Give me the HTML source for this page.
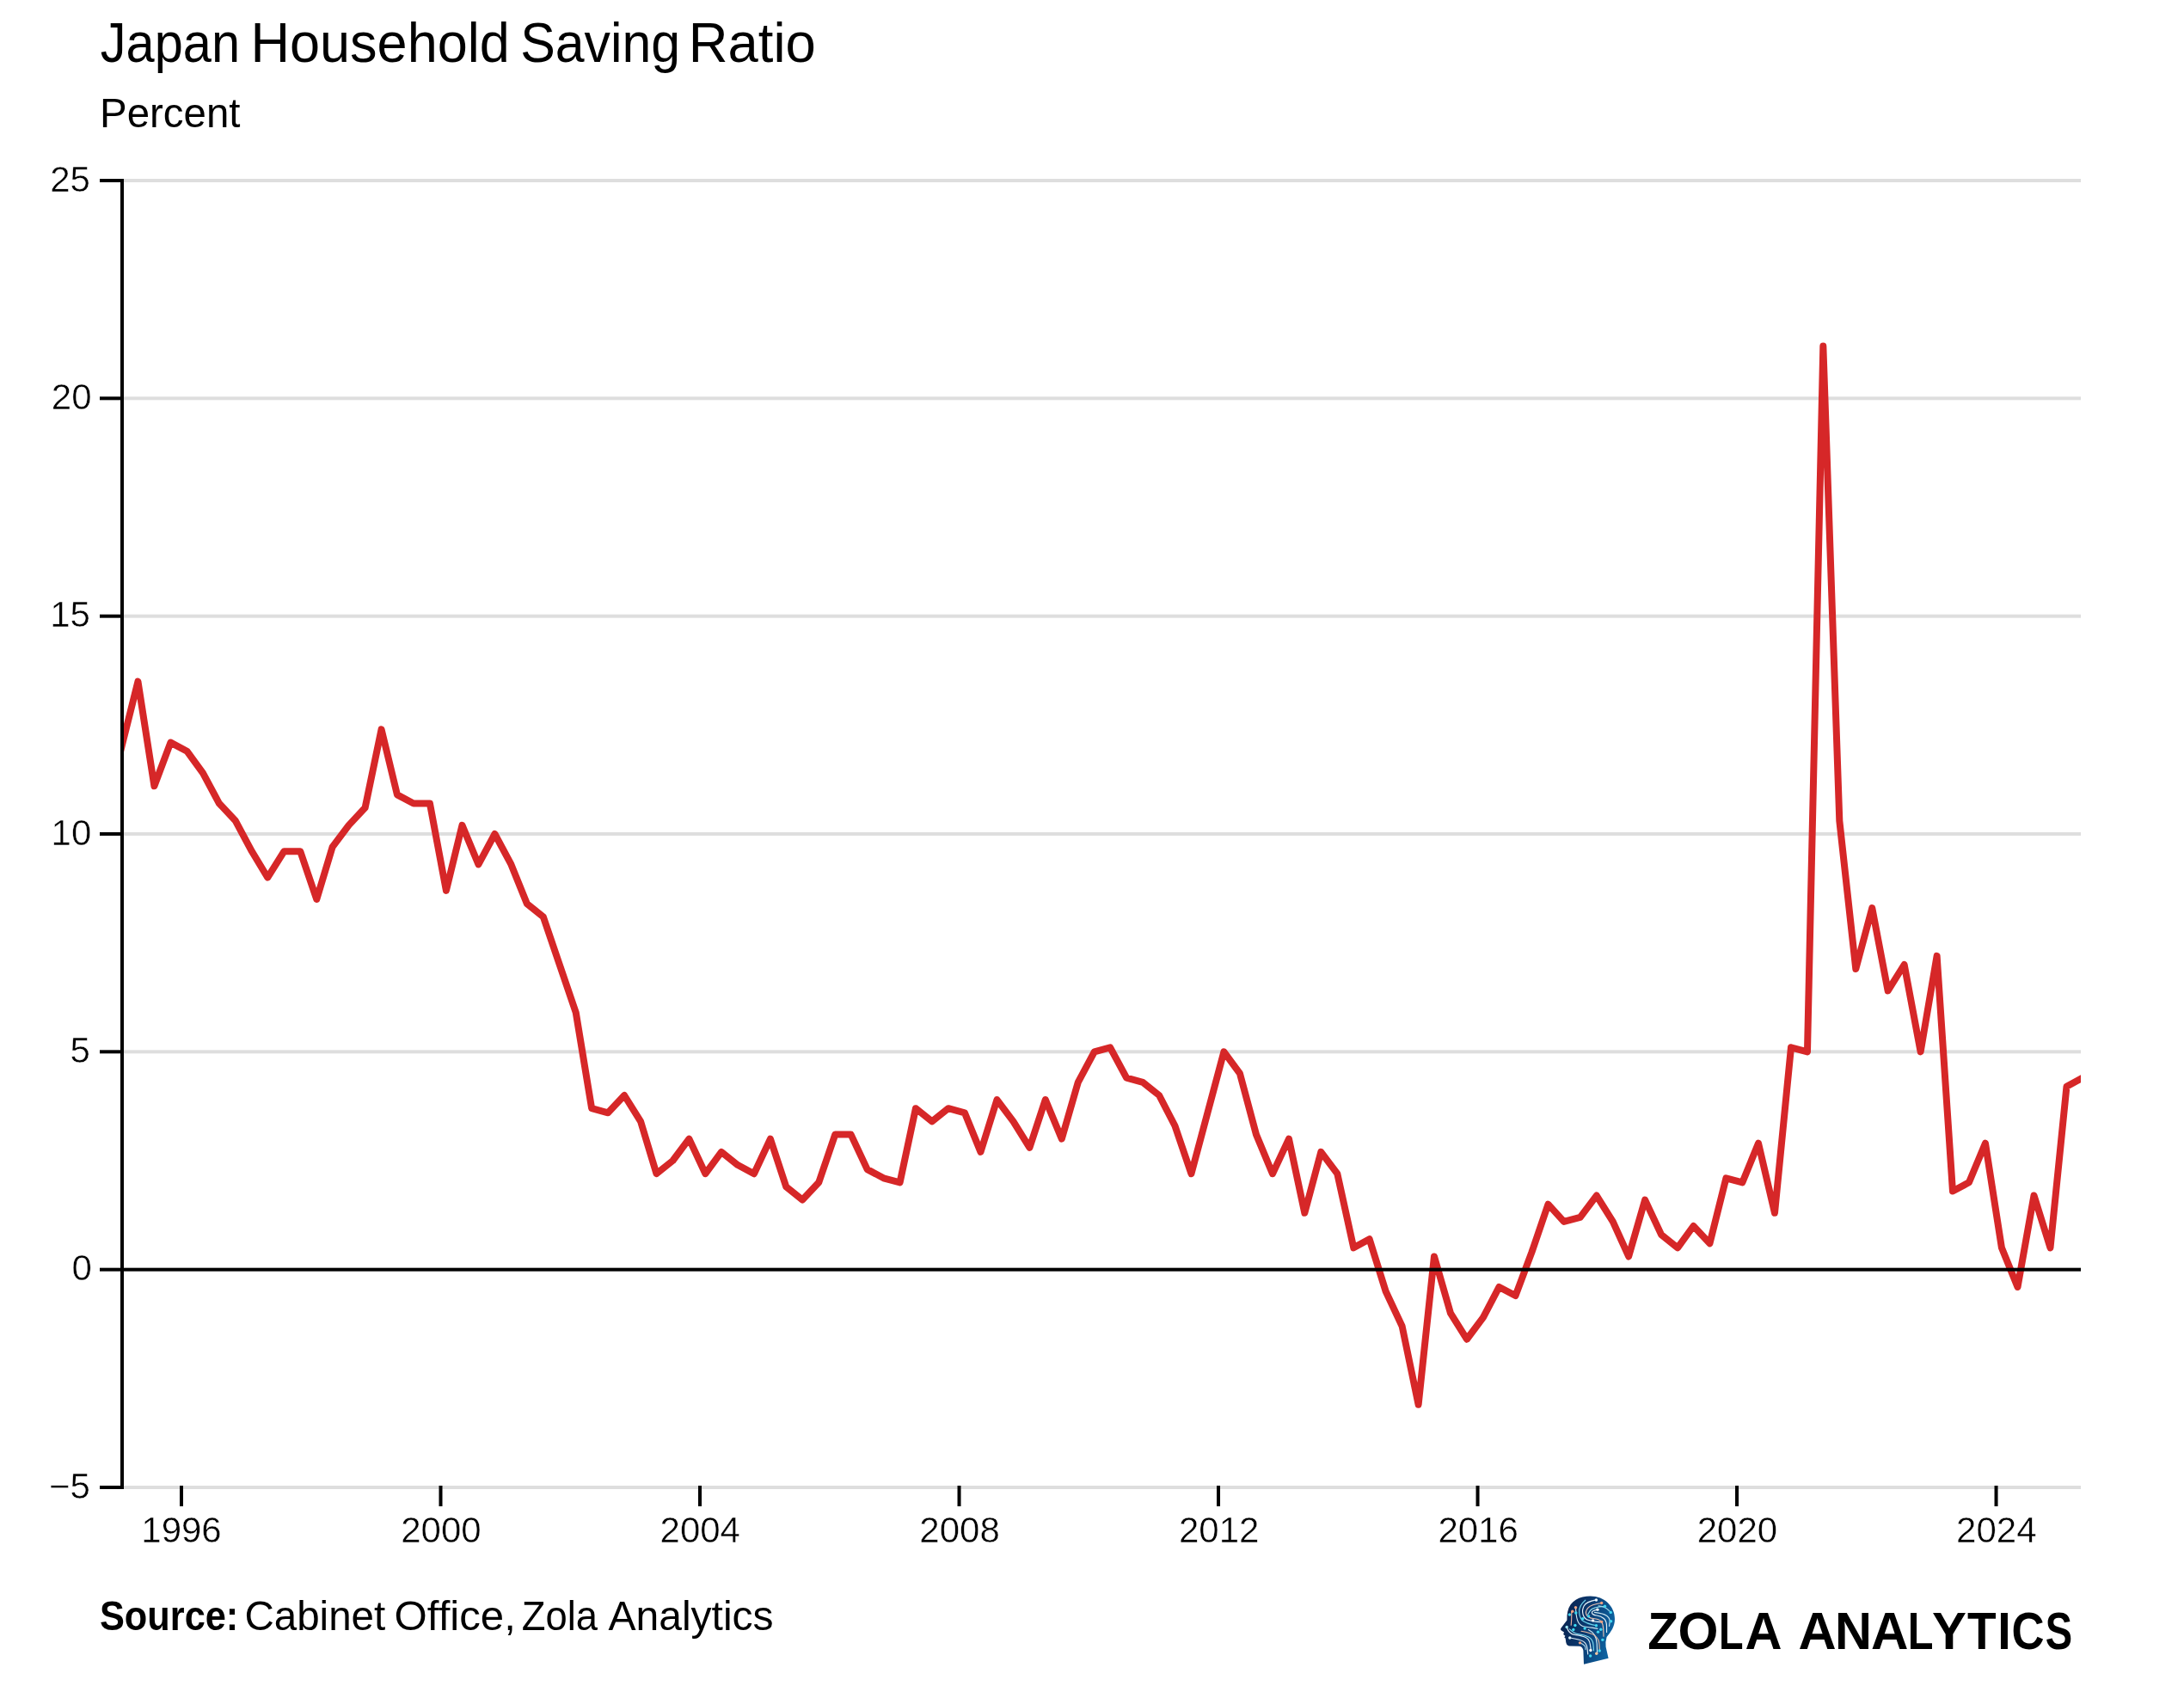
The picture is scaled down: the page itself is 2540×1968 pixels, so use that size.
<!DOCTYPE html><html><head><meta charset="utf-8"><style>html,body{margin:0;padding:0;background:#fff;}svg{display:block;will-change:transform;}text{font-family:"Liberation Sans",sans-serif;}.th{stroke:#fff;stroke-width:0.45px;}</style></head><body>
<svg width="2540" height="1968" viewBox="0 0 2540 1968">
<rect x="0" y="0" width="2540" height="1968" fill="#fff"/>
<defs><clipPath id="plot"><rect x="142" y="0" width="2278" height="1968"/></clipPath><linearGradient id="hg" x1="0" y1="0" x2="1" y2="0.3"><stop offset="0" stop-color="#091c46"/><stop offset="0.55" stop-color="#0b3a70"/><stop offset="1" stop-color="#0d62a0"/></linearGradient></defs>
<rect x="144" y="208.00" width="2276" height="4" fill="#dedede"/>
<rect x="144" y="461.33" width="2276" height="4" fill="#dedede"/>
<rect x="144" y="714.67" width="2276" height="4" fill="#dedede"/>
<rect x="144" y="968.00" width="2276" height="4" fill="#dedede"/>
<rect x="144" y="1221.33" width="2276" height="4" fill="#dedede"/>
<rect x="144" y="1728.00" width="2276" height="4" fill="#dedede"/>
<path d="M123.70,939.60 L142.07,866.13 L160.44,792.67 L179.42,914.27 L198.41,863.60 L217.40,873.73 L235.97,899.07 L254.95,934.53 L273.94,954.80 L292.93,990.27 L311.29,1020.67 L330.28,990.27 L349.27,990.27 L368.25,1046.00 L386.62,985.20 L405.60,959.87 L424.59,939.60 L443.58,848.40 L461.94,924.40 L480.93,934.53 L499.92,934.53 L518.90,1035.87 L537.47,959.87 L556.46,1005.47 L575.45,970.00 L594.43,1005.47 L612.80,1051.07 L631.79,1066.27 L650.77,1122.00 L669.76,1177.73 L688.13,1289.20 L707.11,1294.27 L726.10,1274.00 L745.08,1304.40 L763.45,1365.20 L782.44,1350.00 L801.42,1324.67 L820.41,1365.20 L838.98,1339.87 L857.97,1355.07 L876.95,1365.20 L895.94,1324.67 L914.31,1380.40 L933.29,1395.60 L952.28,1375.33 L971.26,1319.60 L989.63,1319.60 L1008.62,1360.13 L1027.60,1370.27 L1046.59,1375.33 L1064.96,1289.20 L1083.94,1304.40 L1102.93,1289.20 L1121.91,1294.27 L1140.49,1339.87 L1159.47,1279.07 L1178.46,1304.40 L1197.45,1334.80 L1215.81,1279.07 L1234.80,1324.67 L1253.79,1258.80 L1272.77,1223.33 L1291.14,1218.27 L1310.12,1253.73 L1329.11,1258.80 L1348.10,1274.00 L1366.46,1309.47 L1385.45,1365.20 L1404.44,1294.27 L1423.42,1223.33 L1441.99,1248.67 L1460.98,1319.60 L1479.97,1365.20 L1498.95,1324.67 L1517.32,1410.80 L1536.31,1339.87 L1555.29,1365.20 L1574.28,1451.33 L1592.64,1441.20 L1611.63,1502.00 L1630.62,1542.53 L1649.60,1633.73 L1667.97,1461.47 L1686.96,1527.33 L1705.94,1557.73 L1724.93,1532.40 L1743.50,1496.93 L1762.49,1507.07 L1781.47,1456.40 L1800.46,1400.67 L1818.83,1420.93 L1837.81,1415.87 L1856.80,1390.53 L1875.78,1420.93 L1894.15,1461.47 L1913.14,1395.60 L1932.12,1436.13 L1951.11,1451.33 L1969.48,1426.00 L1988.46,1446.27 L2007.45,1370.27 L2026.43,1375.33 L2045.01,1329.73 L2063.99,1410.80 L2082.98,1218.27 L2101.97,1223.33 L2120.33,402.53 L2139.32,954.80 L2158.30,1127.07 L2177.29,1056.13 L2195.66,1152.40 L2214.64,1122.00 L2233.63,1223.33 L2252.62,1111.87 L2270.98,1385.47 L2289.97,1375.33 L2308.95,1329.73 L2327.94,1451.33 L2346.51,1496.93 L2365.50,1390.53 L2384.49,1451.33 L2403.47,1263.87 L2421.84,1253.73" fill="none" stroke="#d62728" stroke-width="8" stroke-linejoin="round" stroke-linecap="butt" clip-path="url(#plot)"/>
<rect x="144" y="1474.67" width="2276" height="4" fill="#000"/>
<rect x="140" y="208" width="4" height="1524" fill="#000"/>
<rect x="116" y="208.00" width="28" height="4" fill="#000"/>
<rect x="116" y="461.33" width="28" height="4" fill="#000"/>
<rect x="116" y="714.67" width="28" height="4" fill="#000"/>
<rect x="116" y="968.00" width="28" height="4" fill="#000"/>
<rect x="116" y="1221.33" width="28" height="4" fill="#000"/>
<rect x="116" y="1474.67" width="28" height="4" fill="#000"/>
<rect x="116" y="1728.00" width="28" height="4" fill="#000"/>
<text class="th" x="58.25" y="222.60" font-size="42.0" fill="#000">25</text>
<text class="th" x="59.82" y="475.93" font-size="42.0" fill="#000">20</text>
<text class="th" x="58.15" y="729.27" font-size="42.0" fill="#000">15</text>
<text class="th" x="59.62" y="982.60" font-size="42.0" fill="#000">10</text>
<text class="th" x="81.51" y="1235.93" font-size="42.0" fill="#000">5</text>
<text class="th" x="83.58" y="1489.27" font-size="42.0" fill="#000">0</text>
<text class="th" x="57.08" y="1742.60" font-size="42.0" fill="#000">−5</text>
<rect x="209.00" y="1728" width="4" height="24" fill="#000"/>
<text class="th" x="164.30" y="1793.6" font-size="42.0" fill="#000">1996</text>
<rect x="510.50" y="1728" width="4" height="24" fill="#000"/>
<text class="th" x="466.25" y="1793.6" font-size="42.0" fill="#000">2000</text>
<rect x="812.01" y="1728" width="4" height="24" fill="#000"/>
<text class="th" x="767.55" y="1793.6" font-size="42.0" fill="#000">2004</text>
<rect x="1113.52" y="1728" width="4" height="24" fill="#000"/>
<text class="th" x="1069.36" y="1793.6" font-size="42.0" fill="#000">2008</text>
<rect x="1415.02" y="1728" width="4" height="24" fill="#000"/>
<text class="th" x="1371.01" y="1793.6" font-size="42.0" fill="#000">2012</text>
<rect x="1716.53" y="1728" width="4" height="24" fill="#000"/>
<text class="th" x="1672.38" y="1793.6" font-size="42.0" fill="#000">2016</text>
<rect x="2018.04" y="1728" width="4" height="24" fill="#000"/>
<text class="th" x="1973.78" y="1793.6" font-size="42.0" fill="#000">2020</text>
<rect x="2319.54" y="1728" width="4" height="24" fill="#000"/>
<text class="th" x="2275.09" y="1793.6" font-size="42.0" fill="#000">2024</text>
<text x="116.77" y="71.90" font-size="64.80" font-weight="normal" textLength="162.30" lengthAdjust="spacingAndGlyphs" fill="#000">Japan</text>
<text x="291.43" y="71.90" font-size="64.80" font-weight="normal" textLength="301.44" lengthAdjust="spacingAndGlyphs" fill="#000">Household</text>
<text x="605.14" y="71.90" font-size="64.80" font-weight="normal" textLength="185.88" lengthAdjust="spacingAndGlyphs" fill="#000">Saving</text>
<text x="800.80" y="71.90" font-size="64.80" font-weight="normal" textLength="147.96" lengthAdjust="spacingAndGlyphs" fill="#000">Ratio</text>
<text x="116.01" y="147.80" font-size="48.70" font-weight="normal" textLength="163.44" lengthAdjust="spacingAndGlyphs" fill="#000">Percent</text>
<text x="115.95" y="1895.80" font-size="48.40" font-weight="bold" textLength="161.32" lengthAdjust="spacingAndGlyphs" fill="#000">Source:</text>
<text x="284.39" y="1895.80" font-size="48.30" font-weight="normal" textLength="163.86" lengthAdjust="spacingAndGlyphs" fill="#000">Cabinet</text>
<text x="458.58" y="1895.80" font-size="48.30" font-weight="normal" textLength="141.31" lengthAdjust="spacingAndGlyphs" fill="#000">Office,</text>
<text x="606.86" y="1895.80" font-size="48.30" font-weight="normal" textLength="88.24" lengthAdjust="spacingAndGlyphs" fill="#000">Zola</text>
<text x="707.41" y="1895.80" font-size="48.30" font-weight="normal" textLength="192.23" lengthAdjust="spacingAndGlyphs" fill="#000">Analytics</text>
<text transform="translate(1934.30,1917.7) scale(0.970,1)" x="-18.51" y="0" font-size="60.5" font-weight="bold" fill="#000">Z</text>
<text transform="translate(1975.00,1917.7) scale(0.999,1)" x="-23.50" y="0" font-size="60.5" font-weight="bold" fill="#000">O</text>
<text transform="translate(2014.00,1917.7) scale(0.773,1)" x="-19.57" y="0" font-size="60.5" font-weight="bold" fill="#000">L</text>
<text transform="translate(2051.00,1917.7) scale(0.985,1)" x="-21.80" y="0" font-size="60.5" font-weight="bold" fill="#000">A</text>
<text transform="translate(2113.50,1917.7) scale(1.010,1)" x="-21.80" y="0" font-size="60.5" font-weight="bold" fill="#000">A</text>
<text transform="translate(2155.50,1917.7) scale(0.984,1)" x="-21.83" y="0" font-size="60.5" font-weight="bold" fill="#000">N</text>
<text transform="translate(2197.80,1917.7) scale(0.995,1)" x="-21.80" y="0" font-size="60.5" font-weight="bold" fill="#000">A</text>
<text transform="translate(2234.50,1917.7) scale(0.805,1)" x="-19.57" y="0" font-size="60.5" font-weight="bold" fill="#000">L</text>
<text transform="translate(2267.00,1917.7) scale(0.991,1)" x="-20.21" y="0" font-size="60.5" font-weight="bold" fill="#000">Y</text>
<text transform="translate(2304.80,1917.7) scale(0.909,1)" x="-18.49" y="0" font-size="60.5" font-weight="bold" fill="#000">T</text>
<text transform="translate(2331.00,1917.7) scale(0.918,1)" x="-8.40" y="0" font-size="60.5" font-weight="bold" fill="#000">I</text>
<text transform="translate(2358.80,1917.7) scale(0.870,1)" x="-22.26" y="0" font-size="60.5" font-weight="bold" fill="#000">C</text>
<text transform="translate(2394.10,1917.7) scale(0.778,1)" x="-19.87" y="0" font-size="60.5" font-weight="bold" fill="#000">S</text>
<path d="M1842,1935.7 L1841.4,1919.7 Q1840.5,1915 1837,1914.7 L1825,1914.6 Q1821,1913.5 1821,1908 L1820.6,1905.5 L1819.3,1904.4 L1820.4,1902.8 L1818.2,1901 L1819,1898.6 L1815.6,1896.2 Q1814.2,1895 1815.6,1893.4 L1822.4,1884.6 Q1822.3,1878 1823.2,1874.5 C1826,1862 1837,1856.6 1849.6,1856.6 C1866,1856.6 1878,1868.5 1878,1883 C1878,1892 1873.5,1898 1868.6,1904 Q1866.8,1910 1867.6,1915.5 L1870.6,1928.8 Z" fill="url(#hg)"/>
<path d="M1843.74,1861.23 Q1836.05,1867.73 1836.64,1875.41 Q1837.23,1883.10 1841.67,1885.76 Q1846.10,1888.42 1851.42,1889.60 L1856.74,1890.78" fill="none" stroke="#6fd6ee" stroke-width="1.15" stroke-linecap="round"/>
<path d="M1856.15,1860.93 Q1844.92,1863.00 1842.26,1867.73 Q1839.60,1872.46 1841.08,1877.78 Q1842.55,1883.10 1847.87,1884.57 Q1853.19,1886.05 1857.92,1886.35 L1862.65,1886.64" fill="none" stroke="#e8f4fa" stroke-width="1.15" stroke-linecap="round"/>
<path d="M1862.65,1864.48 Q1850.24,1865.96 1846.69,1870.39 Q1843.14,1874.82 1845.21,1878.37 Q1847.28,1881.91 1853.19,1882.51 Q1859.10,1883.10 1861.76,1885.46 Q1864.42,1887.83 1864.72,1895.51 L1865.01,1903.19" fill="none" stroke="#e8c0b0" stroke-width="1.15" stroke-linecap="round"/>
<path d="M1866.49,1868.32 Q1852.01,1868.91 1849.35,1873.35 L1846.69,1877.78" fill="none" stroke="#8fe0f0" stroke-width="1.15" stroke-linecap="round"/>
<path d="M1857.92,1872.16 Q1850.83,1873.64 1851.42,1876.00 Q1852.01,1878.37 1857.03,1878.96 Q1862.06,1879.55 1865.31,1882.51 Q1868.56,1885.46 1868.56,1891.96 L1868.56,1898.46" fill="none" stroke="#e0eef6" stroke-width="1.15" stroke-linecap="round"/>
<path d="M1854.37,1875.41 Q1865.01,1876.60 1868.85,1879.55 Q1872.70,1882.51 1872.10,1886.94 L1871.51,1891.37" fill="none" stroke="#c8e4f0" stroke-width="1.15" stroke-linecap="round"/>
<path d="M1873.29,1875.41 Q1867.97,1869.50 1863.53,1868.62 L1859.10,1867.73" fill="none" stroke="#9fd8ea" stroke-width="1.15" stroke-linecap="round"/>
<path d="M1822.16,1892.55 Q1824.82,1900.83 1831.32,1901.42 Q1837.83,1902.01 1843.14,1904.08 Q1848.46,1906.15 1849.35,1912.65 L1850.24,1919.15" fill="none" stroke="#e0eef6" stroke-width="1.15" stroke-linecap="round"/>
<path d="M1825.41,1894.92 Q1830.73,1900.24 1836.64,1900.83 Q1842.55,1901.42 1847.58,1904.08 Q1852.60,1906.74 1853.04,1913.24 L1853.49,1919.74" fill="none" stroke="#7fdcf0" stroke-width="1.15" stroke-linecap="round"/>
<path d="M1825.71,1904.96 Q1837.83,1906.74 1841.67,1909.40 Q1845.51,1912.06 1846.10,1917.97 L1846.69,1923.88" fill="none" stroke="#e0eef6" stroke-width="1.15" stroke-linecap="round"/>
<path d="M1847.28,1895.51 Q1856.74,1900.24 1857.18,1911.47 L1857.62,1922.70" fill="none" stroke="#d8ecf4" stroke-width="1.15" stroke-linecap="round"/>
<path d="M1839.01,1897.28 Q1850.24,1899.05 1854.96,1902.60 Q1859.69,1906.15 1859.99,1912.94 L1860.28,1919.74" fill="none" stroke="#e8b8a0" stroke-width="1.15" stroke-linecap="round"/>
<path d="M1827.78,1874.82 Q1827.78,1883.10 1827.48,1886.64 L1827.19,1890.19" fill="none" stroke="#e8b0a0" stroke-width="1.15" stroke-linecap="round"/>
<path d="M1832.51,1870.09 Q1833.10,1883.10 1835.76,1887.23 Q1838.42,1891.37 1842.85,1891.96 Q1847.28,1892.55 1852.60,1893.44 L1857.92,1894.33" fill="none" stroke="#d0e8f2" stroke-width="1.15" stroke-linecap="round"/>
<path d="M1837.83,1910.87 Q1843.74,1913.83 1843.88,1916.19 L1844.03,1918.56" fill="none" stroke="#a8d8ea" stroke-width="1.15" stroke-linecap="round"/>
<circle cx="1825.41" cy="1878.07" r="1.7" fill="#3fd8f2"/>
<circle cx="1832.80" cy="1876.00" r="1.7" fill="#3fd8f2"/>
<circle cx="1840.78" cy="1882.80" r="1.7" fill="#3fd8f2"/>
<circle cx="1847.58" cy="1879.85" r="1.7" fill="#3fd8f2"/>
<circle cx="1866.49" cy="1868.32" r="1.7" fill="#3fd8f2"/>
<circle cx="1873.29" cy="1875.41" r="1.7" fill="#3fd8f2"/>
<circle cx="1873.58" cy="1885.76" r="1.7" fill="#3fd8f2"/>
<circle cx="1831.91" cy="1890.48" r="1.7" fill="#3fd8f2"/>
<circle cx="1843.14" cy="1894.03" r="1.7" fill="#3fd8f2"/>
<circle cx="1856.44" cy="1890.78" r="1.7" fill="#3fd8f2"/>
<circle cx="1861.76" cy="1895.21" r="1.7" fill="#3fd8f2"/>
<circle cx="1858.51" cy="1898.17" r="1.7" fill="#3fd8f2"/>
<circle cx="1863.83" cy="1907.33" r="1.7" fill="#3fd8f2"/>
<circle cx="1860.28" cy="1920.04" r="1.7" fill="#3fd8f2"/>
<circle cx="1849.65" cy="1925.95" r="1.7" fill="#3fd8f2"/>
<circle cx="1829.85" cy="1895.51" r="1.7" fill="#3fd8f2"/>
<circle cx="1822.16" cy="1892.55" r="1.7" fill="#9fe8f4"/>
<circle cx="1856.44" cy="1860.93" r="1.7" fill="#eef8ff"/>
<circle cx="1857.92" cy="1872.16" r="1.7" fill="#ffffff"/>
<circle cx="1852.60" cy="1884.87" r="1.7" fill="#ffffff"/>
<circle cx="1849.94" cy="1919.44" r="1.7" fill="#ffffff"/>
<circle cx="1825.71" cy="1904.96" r="1.7" fill="#d8f0f8"/>
<circle cx="1832.51" cy="1869.80" r="1.7" fill="#f0a888"/>
<circle cx="1828.78" cy="1874.23" r="1.7" fill="#f0a080"/>
<circle cx="1862.65" cy="1864.48" r="1.7" fill="#f0a080"/>
<circle cx="1862.65" cy="1886.35" r="1.7" fill="#f0a080"/>
<circle cx="1837.53" cy="1910.87" r="1.7" fill="#f0a080"/>
<circle cx="1856.74" cy="1923.29" r="1.7" fill="#f6c8a0"/>
</svg></body></html>
